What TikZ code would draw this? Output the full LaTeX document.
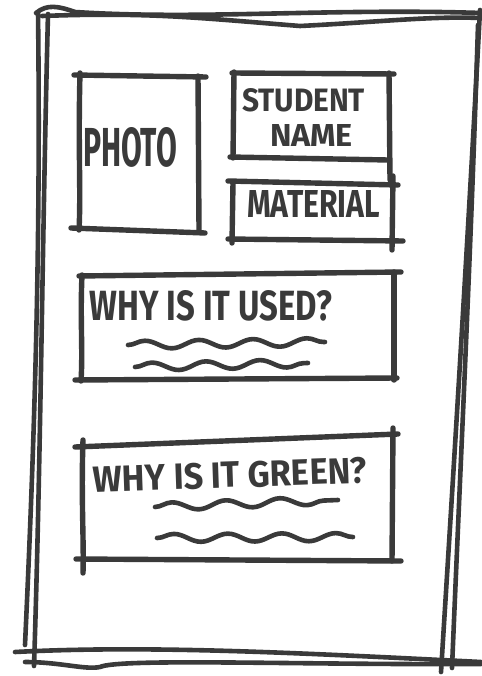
\documentclass[tikz,border=0pt]{standalone}
\usepackage{fontspec}
\setmainfont{Fira Sans}
\usepackage{graphicx}
\usetikzlibrary{decorations.pathmorphing}
\definecolor{ink}{HTML}{3A3A3A}
\newcommand{\sketchtext}[3]{\resizebox{#1pt}{#2pt}{\bfseries #3}}
\tikzset{
  pen/.style={draw=ink, line width=5.4pt, line cap=round, line join=round},
  frame/.style={draw=ink, line width=4.6pt, line cap=round, line join=round},
  squiggle/.style={pen, line width=4.6pt, decorate, decoration={snake, segment length=54pt, amplitude=4pt}},
  label/.style={inner sep=0pt, text=ink, anchor=center}
}
\begin{document}
\begin{tikzpicture}[x=1pt,y=-1pt]
\fill[white] (0,0) rectangle (481,676);
\useasboundingbox (0,0) rectangle (481,676);

% outer double frame
\draw[frame] (38,12) .. controls (41,250) and (34,450) .. (25,645);
\draw[frame] (48,14) .. controls (42,250) and (41,450) .. (34,666);
\draw[frame] (480,10) .. controls (470,200) and (458,400) .. (441,672);
\draw[frame] (478,25) .. controls (471,250) and (461,450) .. (452,668);
\draw[frame] (36,13) .. controls (47,4) and (58,6) .. (75,12) .. controls (200,20) and (330,8) .. (481,13);
\draw[frame] (42,16) .. controls (150,12) and (200,18) .. (300,26) .. controls (380,22) and (430,16) .. (481,18);
\draw[frame] (15,652) .. controls (150,645) and (300,653) .. (481,662);
\draw[frame] (25,662) .. controls (60,662) and (85,670) .. (100,667) .. controls (120,658) and (300,665) .. (481,664);

% photo box
\draw[pen] (74,75) -- (206,77);
\draw[pen] (80,73) .. controls (78,150) and (81,190) .. (79,230);
\draw[pen] (198,76) -- (199,230);
\draw[pen] (71,228) -- (205,233);
\node[label] (photo) at (130,147.5) {\sketchtext{94}{39}{PHOTO}};

% student name box
\draw[pen] (232,73) -- (394,74);
\draw[pen] (234,72) -- (233,158);
\draw[pen] (230,157) -- (388,160);
\draw[pen] (389,73) -- (390,180);
\node[label] (student) at (303.5,100.5) {\sketchtext{123}{23}{STUDENT}};
\node[label] (name) at (311.5,136) {\sketchtext{83}{22}{NAME}};

% material box
\draw[pen] (228,181) -- (398,185);
\draw[pen] (233,183) -- (232,243);
\draw[pen] (228,239) -- (403,241);
\draw[pen] (393,176) -- (392,250);
\node[label] (material) at (313.5,203.5) {\sketchtext{133}{27}{MATERIAL}};

% why is it used box
\draw[pen] (79,276) -- (401,272);
\draw[pen] (82,275) .. controls (80,320) and (83,350) .. (81,381);
\draw[pen] (75,380) -- (397,378);
\draw[pen] (394,272) -- (394,380);
\node[label] (used) at (211,306) {\sketchtext{242}{30}{WHY IS IT USED?}};
\draw[squiggle] (128,345) -- (325,342);
\draw[squiggle] (135,367) -- (308,363);

% why is it green box
\draw[pen] (75,447) -- (398,434);
\draw[pen] (83,440) .. controls (81,500) and (84,540) .. (83,573);
\draw[pen] (76,559) -- (401,561);
\draw[pen] (393,428) -- (392,561);
\node[label, rotate=2] (green) at (230,475) {\sketchtext{274}{26}{WHY IS IT GREEN?}};
\draw[squiggle] (155,507) -- (338,500);
\draw[squiggle] (157,538) -- (353,537);
\end{tikzpicture}
\end{document}
